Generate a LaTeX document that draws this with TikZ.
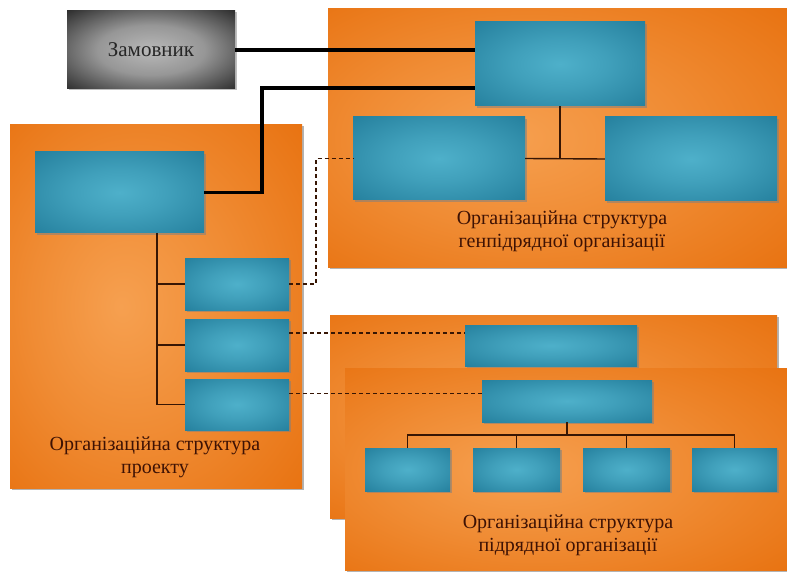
\documentclass[tikz,border=0pt]{standalone}
\usepackage{fontspec}
\setmainfont{Liberation Serif}
\usetikzlibrary{shadows,calc}
\definecolor{tlight}{RGB}{78,176,202}
\definecolor{tdark}{RGB}{32,122,152}
\definecolor{olight}{RGB}{246,160,80}
\definecolor{odark}{RGB}{230,108,8}
\definecolor{glight}{RGB}{185,185,185}
\definecolor{gdark}{RGB}{12,12,12}
\definecolor{txt}{RGB}{62,18,4}
\definecolor{lnc}{RGB}{55,22,4}
\pgfdeclareradialshading{tshade}{\pgfpoint{0bp}{0bp}}{color(0bp)=(tlight); color(14bp)=(tlight!70!tdark); color(40bp)=(tdark); color(50bp)=(tdark)}
\pgfdeclareradialshading{oshade}{\pgfpoint{-6bp}{0bp}}{color(0bp)=(olight); color(18bp)=(olight!60!odark); color(42bp)=(odark); color(50bp)=(odark)}
\pgfdeclareradialshading{gshade}{\pgfpoint{0bp}{0bp}}{color(0bp)=(glight); color(16bp)=(glight!80!gdark); color(42bp)=(gdark); color(50bp)=(gdark)}
\tikzset{
  panel/.style={rectangle, shading=oshade, draw=none, inner sep=0pt,
    drop shadow={shadow xshift=1.5pt, shadow yshift=-1.5pt, opacity=0.6}},
  tbox/.style={rectangle, shading=tshade, draw=none, inner sep=0pt,
    drop shadow={shadow xshift=2pt, shadow yshift=-2pt, opacity=0.55}},
  zbox/.style={rectangle, shading=gshade, draw=none, inner sep=0pt,
    drop shadow={shadow xshift=1.5pt, shadow yshift=-1.5pt, opacity=0.5}},
  ptext/.style={align=center, text=txt, inner sep=0pt, font=\fontsize{20}{23}\selectfont},
  thickln/.style={line width=3.2pt, draw=black},
  treeln/.style={line width=1.4pt, draw=lnc},
  dashln/.style={line width=1.3pt, draw=lnc, dash pattern=on 4pt off 3pt},
}
\begin{document}
\begin{tikzpicture}[x=1pt,y=-1pt]
\useasboundingbox (0,0) rectangle (787,572);
% panels
\node[panel, minimum width=459, minimum height=258] (pgen) at (557.5,138) {};
\node[panel, minimum width=292, minimum height=363] (pproj) at (156,306.5) {};
\node[panel, minimum width=447, minimum height=203] (psubb) at (553.5,416.5) {};
\node[panel, minimum width=442, minimum height=202] (psubf) at (566,469) {};
% customer
\node[zbox, minimum width=168, minimum height=78] (zam) at (151,50) {};
\node[text=black!85, font=\fontsize{21}{24}\selectfont] (zamt) at (zam) {Замовник};
% general contractor structure
\node[tbox, minimum width=170, minimum height=84] (gtop) at (560,64) {};
\node[tbox, minimum width=172, minimum height=83] (gleft) at (439,158.5) {};
\node[tbox, minimum width=172, minimum height=84] (gright) at (691,159) {};
\node[ptext] (gtext) at (562,231) {Організаційна структура\\генпідрядної організації};
% project structure
\node[tbox, minimum width=169, minimum height=81] (pmain) at (119.5,192.5) {};
\node[tbox, minimum width=104, minimum height=52] (pb1) at (237,284) {};
\node[tbox, minimum width=104, minimum height=52] (pb2) at (237,345) {};
\node[tbox, minimum width=104, minimum height=51] (pb3) at (237,404.5) {};
\node[ptext] (ptext) at (155,457) {Організаційна структура\\проекту};
% subcontractor structure
\node[tbox, minimum width=172, minimum height=41] (sback) at (551,345.5) {};
\node[tbox, minimum width=170, minimum height=42] (sfront) at (567,401) {};
\node[tbox, minimum width=85, minimum height=43] (sa) at (407.5,469.5) {};
\node[tbox, minimum width=87, minimum height=43] (sb) at (516.5,469.5) {};
\node[tbox, minimum width=87, minimum height=43] (sc) at (626.5,469.5) {};
\node[tbox, minimum width=85, minimum height=43] (sd) at (734.5,469.5) {};
\node[ptext] (stext) at (568,535) {Організаційна структура\\підрядної організації};
% thick customer links
\coordinate (bend) at (262,88);
\draw[thickln] (zam.east) -- (zam.east -| gtop.west);
\draw[thickln] (pmain.east) -| (bend) -- (bend -| gtop.west);
% general tree
\draw[treeln] (gtop.south) -- (gtop.south |- gleft.east);
\draw[treeln] (gleft.east) -- (gright.west);
% project tree
\coordinate (ptr) at (157,233);
\draw[treeln] (ptr) -- (ptr |- pb3.west) -- (pb3.west);
\draw[treeln] (ptr |- pb1.west) -- (pb1.west);
\draw[treeln] (ptr |- pb2.west) -- (pb2.west);
% sub tree
\coordinate (bus) at (0,435);
\draw[treeln] (sfront.south) -- (sfront.south |- bus);
\draw[treeln] (sa.north) -- (sa.north |- bus) -- (sd.north |- bus) -- (sd.north);
\draw[treeln] (sb.north) -- (sb.north |- bus);
\draw[treeln] (sc.north) -- (sc.north |- bus);
% dashed links
\coordinate (dk) at (316,0);
\draw[dashln] (pb1.east) -- (pb1.east -| dk) -- (dk |- gleft.west) -- (gleft.west);
\draw[dashln] ([yshift=12pt]pb2.east) -- ([yshift=12pt]pb2.east -| sback.west);
\draw[dashln] ([yshift=11pt]pb3.east) -- ([yshift=11pt]pb3.east -| sfront.west);
\end{tikzpicture}
\end{document}
